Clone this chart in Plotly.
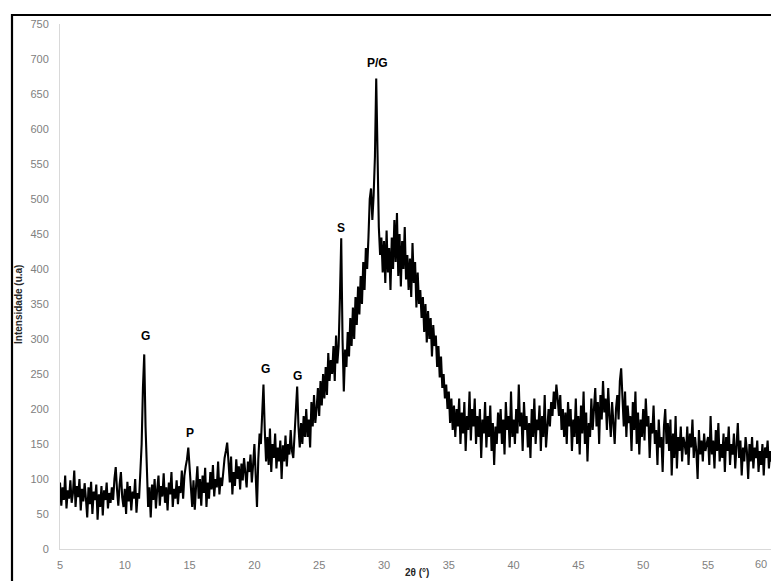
import numpy as np
import plotly.graph_objects as go

# 2-theta from 5.0 to 60.0 in steps of 0.1 (one row per degree)
two_theta_start = 5.0
two_theta_step = 0.1

intensity = [
    95, 62, 88, 70, 105, 58, 84, 72, 98, 66,          # 5
    80, 112, 60, 90, 74, 100, 55, 86, 68, 94,         # 6
    72, 45, 88, 64, 96, 50, 82, 70, 92, 42,           # 7
    78, 60, 90, 48, 84, 70, 95, 58, 80, 66,           # 8
    88, 70, 100, 117, 85, 62, 92, 110, 74, 60,        # 9
    86, 50, 96, 68, 90, 55, 82, 72, 100, 52,          # 10
    80, 72, 110, 150, 230, 278, 175, 95, 60, 88,      # 11
    45, 92, 70, 100, 58, 85, 105, 62, 90, 75,         # 12
    108, 66, 88, 55, 95, 78, 110, 60, 86, 72,         # 13
    98, 64, 90, 80, 112, 72, 105, 118, 128, 145,      # 14
    110, 85, 60, 98, 56, 90, 118, 72, 100, 62,        # 15
    105, 80, 116, 60, 95, 72, 110, 85, 120, 75,       # 16
    100, 88, 125, 78, 102, 90, 118, 130, 140, 152,    # 17
    125, 95, 132, 78, 110, 90, 128, 100, 118, 85,     # 18
    122, 98, 130, 105, 88, 125, 110, 135, 95, 120,    # 19
    150, 105, 60, 128, 165, 150, 200, 235, 170, 125,  # 20
    160, 120, 172, 110, 150, 130, 165, 115, 145, 125, # 21
    155, 100, 148, 125, 162, 118, 150, 135, 170, 140, # 22
    130, 165, 190, 232, 175, 145, 180, 150, 190, 160, # 23
    200, 160, 185, 145, 210, 175, 220, 180, 200, 230, # 24
    190, 240, 205, 250, 215, 260, 220, 280, 240, 270, # 25
    250, 290, 240, 305, 265, 290, 360, 444, 300, 225, # 26
    285, 260, 310, 275, 330, 290, 345, 300, 360, 320, # 27
    375, 335, 390, 350, 410, 370, 430, 400, 445, 500, # 28
    515, 470, 505, 560, 672, 540, 460, 420, 445, 395, # 29
    440, 380, 455, 395, 430, 370, 445, 400, 470, 410, # 30
    480, 390, 450, 375, 440, 400, 460, 385, 420, 370, # 31
    415, 360, 437, 380, 410, 345, 395, 350, 370, 330, # 32
    360, 310, 350, 295, 340, 300, 330, 275, 320, 290, # 33
    305, 260, 290, 245, 275, 230, 250, 215, 235, 200, # 34
    225, 180, 215, 170, 205, 160, 200, 175, 215, 150, # 35
    195, 165, 210, 140, 190, 170, 225, 155, 200, 175, # 36
    215, 150, 190, 160, 200, 130, 185, 165, 210, 145, # 37
    190, 160, 205, 140, 180, 120, 175, 150, 195, 165, # 38
    200, 150, 185, 135, 210, 170, 190, 145, 225, 160, # 39
    185, 150, 200, 165, 235, 175, 195, 140, 210, 170, # 40
    190, 145, 180, 130, 200, 160, 215, 150, 185, 170, # 41
    205, 140, 190, 160, 220, 145, 180, 200, 175, 210, # 42
    190, 225, 200, 235, 215, 190, 220, 170, 200, 160, # 43
    195, 150, 210, 175, 200, 140, 185, 160, 215, 150, # 44
    190, 135, 205, 165, 225, 150, 195, 125, 180, 160, # 45
    215, 170, 200, 230, 175, 210, 150, 220, 185, 240, # 46
    195, 215, 170, 230, 190, 160, 210, 185, 150, 200, # 47
    220, 185, 240, 258, 215, 175, 225, 160, 205, 180, # 48
    190, 140, 210, 170, 225, 150, 195, 135, 185, 160, # 49
    200, 155, 215, 175, 190, 130, 180, 165, 205, 150, # 50
    170, 120, 185, 145, 160, 110, 175, 200, 150, 180, # 51
    140, 185, 105, 165, 130, 190, 115, 160, 140, 175, # 52
    125, 160, 150, 135, 175, 120, 165, 145, 185, 130, # 53
    160, 140, 100, 170, 135, 155, 125, 165, 140, 150, # 54
    160, 120, 190, 135, 155, 115, 170, 140, 180, 125, # 55
    150, 130, 165, 110, 160, 140, 175, 120, 150, 135, # 56
    165, 115, 150, 180, 130, 155, 105, 145, 125, 160, # 57
    140, 100, 150, 125, 160, 115, 145, 130, 155, 110, # 58
    140, 120, 150, 105, 145, 130, 155, 115, 140, 125, # 59
    135,                                              # 60
]
two_theta = [round(two_theta_start + i * two_theta_step, 2) for i in range(len(intensity))]

peak_labels = ["G", "P", "G", "G", "S", "P/G"]
peak_x = [11.58, 15.03, 20.82, 23.34, 26.66, 29.48]
peak_y = [305, 166, 257, 247, 458, 695]

x_ticks = [5, 10, 15, 20, 25, 30, 35, 40, 45, 50, 55, 60]
y_ticks = list(range(0, 751, 50))

W, H = 771, 581
ML, MR, MT, MB = 60, 0, 24, 32
plot_w = W - ML - MR
plot_h = H - MT - MB
px_per_unit = 12.96
x_max = 5 + plot_w / px_per_unit

fig = go.Figure()
fig.add_trace(go.Scatter(
    x=two_theta, y=intensity, mode="lines",
    line=dict(color="black", width=2.1), showlegend=False,
))

for lab, xv, yv in zip(peak_labels, peak_x, peak_y):
    fig.add_annotation(x=xv, y=yv, text=f"<b>{lab}</b>", showarrow=False,
                       font=dict(family="Liberation Sans, Arial", size=12, color="black"),
                       xanchor="center", yanchor="middle")

tick_font = dict(family="Liberation Sans, Arial", size=11, color="#808080")

def px2paper_x(px):
    return (px - ML) / plot_w

def px2paper_y(py):
    return (H - MB - py) / plot_h

# last tick label, placed just inside the right edge
fig.add_annotation(x=px2paper_x(769), y=px2paper_y(564), xref="paper", yref="paper",
                   text="60", showarrow=False, font=tick_font,
                   xanchor="right", yanchor="middle")

# axis titles
fig.add_annotation(x=px2paper_x(18), y=px2paper_y(305), xref="paper", yref="paper",
                   text="<b>Intensidade (u.a)</b>", textangle=-90, showarrow=False,
                   font=dict(family="Liberation Sans, Arial", size=10, color="#262626"),
                   xanchor="center", yanchor="middle")
fig.add_annotation(x=px2paper_x(417), y=px2paper_y(580), xref="paper", yref="paper",
                   text="<b>2θ (°)</b>", showarrow=False,
                   font=dict(family="Liberation Sans, Arial", size=10, color="#262626"),
                   xanchor="center", yanchor="bottom")

# outer frame (cropped on right and bottom)
fig.add_shape(type="rect", xref="paper", yref="paper",
              x0=px2paper_x(12), x1=px2paper_x(W + 20),
              y0=px2paper_y(H + 20), y1=px2paper_y(15),
              line=dict(color="black", width=2.2), fillcolor="rgba(0,0,0,0)", layer="above")

fig.update_xaxes(range=[5, x_max], tickvals=x_ticks, showgrid=False, zeroline=False,
                 showline=True, linecolor="#d9d9d9", linewidth=1, ticks="",
                 tickfont=tick_font, ticklabelstandoff=6)
fig.update_yaxes(range=[0, 750], tickvals=y_ticks, showgrid=False, zeroline=False,
                 showline=True, linecolor="#d9d9d9", linewidth=1, ticks="",
                 tickfont=tick_font, ticklabelstandoff=8)

fig.update_layout(width=W, height=H, margin=dict(l=ML, r=MR, t=MT, b=MB),
                  plot_bgcolor="white", paper_bgcolor="white")

fig.write_html("out.html")
